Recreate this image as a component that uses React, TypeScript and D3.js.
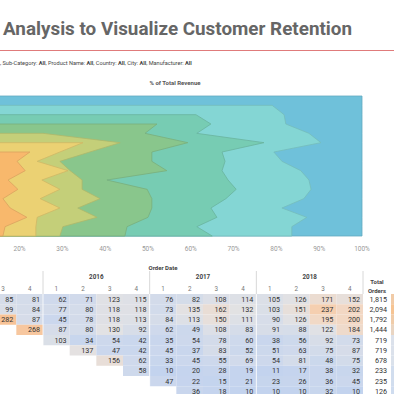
import React from 'react';
import * as d3 from 'd3';

// ---------- text ----------
const titleText = 'Analysis to Visualize Customer Retention';
const filterFields = ['Sub-Category', 'Product Name', 'Country', 'City', 'Manufacturer'];
const filterValues = ['All', 'All', 'All', 'All', 'All'];
const areaAxisTitle = '% of Total Revenue';
const xTickValues = [0.2, 0.3, 0.4, 0.5, 0.6, 0.7, 0.8, 0.9, 1.0];

// ---------- area chart (rows = first-order cohort, top = latest) ----------
const cohortRows = [
  '2018 Q4', '2018 Q3', '2018 Q2', '2018 Q1', '2017 Q4', '2017 Q3', '2017 Q2', '2017 Q1',
  '2016 Q4', '2016 Q3', '2016 Q2', '2016 Q1', '2015 Q4', '2015 Q3', '2015 Q2', '2015 Q1',
];
const N = null;
// share of revenue (%) per order quarter layer, per cohort row
const share2017Q2 = [N, N, N, N, N, N, 22.4, 19.4, 21.3, 17.3, 19.6, 16.1, 17.8, 21.7, 16.6, 16.1];
const share2017Q3 = [N, N, N, N, N, 34.8, 7.0, 4.7, 10.0, 7.9, 9.8, 8.7, 11.6, 2.4, 7.2, 7.7];
const share2017Q4 = [N, N, N, N, 25.5, 8.7, 7.0, 5.3, 0.5, 9.4, 5.2, 14.0, 4.2, 14.0, 6.3, 5.6];
const share2018Q1 = [N, N, N, 52.1, 23.8, 15.8, 14.5, 21.5, 22.6, 5.8, 15.2, 12.1, 17.3, 11.9, 15.0, 15.2];
const share2018Q2 = [N, N, 61.2, 12.6, 12.1, 17.8, 16.4, 17.1, 12.9, 28.3, 20.8, 17.3, 13.8, 16.1, 16.3, 20.4];
const share2018Q3 = [N, 79.0, 20.6, 17.5, 26.2, 13.3, 12.1, 13.3, 18.4, 18.9, 17.5, 18.2, 16.6, 21.0, 22.2, 18.6];
const share2018Q4 = [100, 21.0, 18.2, 17.8, 12.4, 9.6, 20.6, 18.7, 14.3, 12.4, 11.9, 13.6, 18.7, 12.9, 16.4, 16.4];
const layerNames = ['2017 Q2', '2017 Q3', '2017 Q4', '2018 Q1', '2018 Q2', '2018 Q3', '2018 Q4'];
const layerColors = ['#f8b86c', '#ebd173', '#c4cf79', '#89c68c', '#77ccb3', '#84d6d4', '#6fc1da'];

// ---------- cohort table ----------
const tableYears = ['2015', '2016', '2017', '2018'];
const tableQuarters = ['1', '2', '3', '4'];
const tableRow2015Q1 = [N, N, 85, 81, 62, 71, 123, 115, 76, 82, 108, 114, 105, 126, 171, 152];
const tableRow2015Q2 = [N, N, 99, 84, 77, 80, 118, 118, 73, 135, 162, 132, 103, 151, 237, 202];
const tableRow2015Q3 = [N, N, 282, 87, 45, 78, 118, 113, 84, 113, 150, 111, 90, 126, 195, 200];
const tableRow2015Q4 = [N, N, N, 268, 87, 80, 130, 92, 62, 49, 108, 83, 91, 88, 122, 184];
const tableRow2016Q1 = [N, N, N, N, 103, 34, 54, 42, 35, 54, 78, 60, 38, 56, 92, 73];
const tableRow2016Q2 = [N, N, N, N, N, 137, 47, 42, 45, 37, 83, 52, 51, 63, 75, 87];
const tableRow2016Q3 = [N, N, N, N, N, N, 156, 62, 33, 45, 55, 69, 54, 81, 48, 75];
const tableRow2016Q4 = [N, N, N, N, N, N, N, 58, 10, 20, 28, 19, 11, 17, 38, 32];
const tableRow2017Q1 = [N, N, N, N, N, N, N, N, 47, 22, 15, 21, 23, 26, 36, 45];
const tableRow2017Q2 = [N, N, N, N, N, N, N, N, N, 36, 18, 10, 10, 10, 32, 10];
const totalOrders = [1815, 2094, 1792, 1444, 719, 719, 678, 233, 235, 126];

export default function App() {
  const font = 'Roboto, "Noto Sans", sans-serif';
  const series = [share2017Q2, share2017Q3, share2017Q4, share2018Q1, share2018Q2, share2018Q3, share2018Q4];

  // area chart scales
  const x = d3.scaleLinear().domain([0, 1]).range([-66, 362]);
  const y = d3.scaleLinear().domain([0, cohortRows.length - 1]).range([96, 236]);

  const cum = series.map((_, k) =>
    cohortRows.map((_, i) => series.slice(0, k + 1).reduce((a, s) => a + (s[i] ?? 0), 0) / 100)
  );
  const starts = series.map((s) => s.findIndex((v) => v != null));
  const area = d3
    .area<[number, number]>()
    .x0(() => x(0))
    .x1((d) => x(d[1]))
    .y((d) => y(d[0]));

  const layers = series.map((s, k) => {
    const pts: [number, number][] = [];
    for (let i = starts[k]; i < cohortRows.length; i++) pts.push([i, cum[k][i]]);
    return { k, path: area(pts) as string };
  });

  // table geometry
  const colW = (363 - 43) / 12;
  const colLeft = (j: number) => 43 + (j - 4) * colW;
  const rowH = 10.25;
  const rowTop = (i: number) => 294 + i * rowH;
  const tableRows = [
    tableRow2015Q1, tableRow2015Q2, tableRow2015Q3, tableRow2015Q4, tableRow2016Q1,
    tableRow2016Q2, tableRow2016Q3, tableRow2016Q4, tableRow2017Q1, tableRow2017Q2,
  ];
  const cellColor = d3
    .scaleLinear<string>()
    .domain([10, 60, 130, 200, 282])
    .range(['#c3d3ee', '#ced9ec', '#e2e2e4', '#f2d8c4', '#f8c397'])
    .clamp(true);
  const totalColor = d3
    .scaleLinear<string>()
    .domain([126, 900, 2094])
    .range(['#cfdcef', '#dfe3ea', '#f6c493'])
    .clamp(true);
  const fmt = d3.format(',');
  const visible = (cx: number) => cx >= 0; // columns scrolled off the left edge are not labelled

  return (
    <svg
      width={394}
      height={394}
      style={{ position: 'absolute', left: 0, top: 0, background: '#fff' }}
      fontFamily={font}
    >
      {/* title */}
      <text x={3} y={35} fontSize={17.5} fontWeight={700} fill="#666" textLength={349} lengthAdjust="spacingAndGlyphs">
        {titleText}
      </text>
      <line x1={0} x2={394} y1={50.5} y2={50.5} stroke="#e07b7b" strokeWidth={1} />
      <text x={0} y={65} fontSize={5.6} fill="#444">
        {', '}
        {filterFields.map((f, i) => (
          <tspan key={f}>
            {f + ': '}
            <tspan fontWeight={700}>{filterValues[i]}</tspan>
            {i < filterFields.length - 1 ? ', ' : ''}
          </tspan>
        ))}
      </text>

      {/* area chart */}
      <text x={175} y={85} fontSize={6} fontWeight={700} fill="#555" textAnchor="middle">
        {areaAxisTitle}
      </text>
      <g>
        {layers
          .slice()
          .reverse()
          .map(({ k, path }) => (
            <path
              key={layerNames[k]}
              d={path}
              fill={layerColors[k]}
              stroke={d3.color(layerColors[k])!.darker(0.35).toString()}
              strokeWidth={0.8}
              strokeLinejoin="round"
            />
          ))}
      </g>
      {xTickValues.map((t) => (
        <text key={t} x={x(t)} y={251} fontSize={6.5} fill="#999" textAnchor="middle">
          {d3.format('.0%')(t)}
        </text>
      ))}

      {/* table header */}
      <text x={163} y={270} fontSize={6} fontWeight={700} fill="#444" textAnchor="middle">
        Order Date
      </text>
      {tableYears.map((yr, yi) => {
        const l = colLeft(yi * 4);
        return (
          <g key={yr}>
            {visible(l + colW * 2 - 8) && (
              <text x={l + colW * 2} y={279} fontSize={6.3} fontWeight={700} fill="#444" textAnchor="middle">
                {yr}
              </text>
            )}
            <line x1={l} x2={l} y1={271} y2={294} stroke="#d8d8d8" strokeWidth={1} />
            {tableQuarters.map((q, qi) =>
              visible(l + colW * (qi + 0.5) - 2) ? (
                <text key={q} x={l + colW * (qi + 0.5)} y={290.5} fontSize={6.3} fill="#777" textAnchor="middle">
                  {q}
                </text>
              ) : null
            )}
          </g>
        );
      })}
      <line x1={363} x2={363} y1={271} y2={294} stroke="#d8d8d8" strokeWidth={1} />
      <text x={377} y={284} fontSize={6} fontWeight={700} fill="#444" textAnchor="middle">
        Total
      </text>
      <text x={377} y={292.5} fontSize={6} fontWeight={700} fill="#444" textAnchor="middle">
        Orders
      </text>

      {/* table body */}
      {tableRows.map((row, i) => (
        <g key={i}>
          {row.map((v, j) =>
            v == null ? null : (
              <g key={j}>
                <rect x={colLeft(j)} y={rowTop(i)} width={colW} height={rowH} fill={cellColor(v)} />
                <text x={colLeft(j) + colW - 3} y={rowTop(i) + 7.6} fontSize={7.2} fill="#333" textAnchor="end">
                  {v}
                </text>
              </g>
            )
          )}
          <text x={387} y={rowTop(i) + 7.6} fontSize={7.2} fill="#333" textAnchor="end">
            {fmt(totalOrders[i])}
          </text>
          <rect x={391} y={rowTop(i)} width={4} height={rowH} fill={totalColor(totalOrders[i])} />
        </g>
      ))}
      {[43, 149.67, 256.33].map((lx) => (
        <line key={lx} x1={lx} x2={lx} y1={294} y2={394} stroke="#ffffff" strokeWidth={0.8} />
      ))}
    </svg>
  );
}
